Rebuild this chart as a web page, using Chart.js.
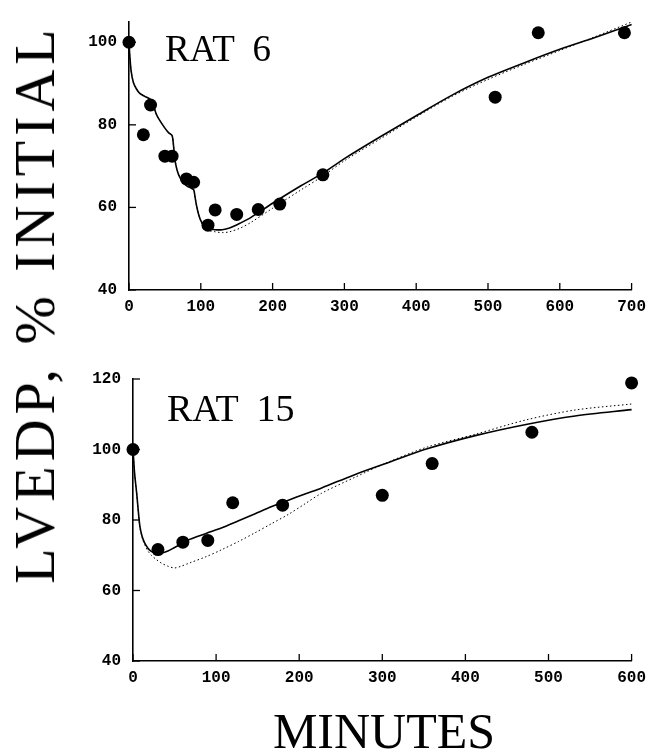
<!DOCTYPE html>
<html>
<head>
<meta charset="utf-8">
<script src="https://cdn.jsdelivr.net/npm/chart.js@4.4.1/dist/chart.umd.min.js"></script>
<style>
  body { margin: 0; background: #fff; }
  #wrap { position: relative; width: 653px; height: 755px; overflow: hidden; background: #fff; }
  canvas { position: absolute; left: 0; }
  #topChart { top: 0; }
  #bottomChart { top: 340px; }
  .serif { position: absolute; font-family: 'Liberation Serif', 'Times New Roman', serif; color: #000; white-space: nowrap; line-height: 1; }
  #yTitle { left: 35px; top: 304px; font-size: 58px; letter-spacing: 5px; transform: translate(-50%, -50%) rotate(-90deg); }
  #xTitle { left: 384px; top: 731px; font-size: 50px; transform: translate(-50%, -50%); }
  #rat6 { left: 165px; top: 30px; font-size: 37px; word-spacing: 9px; }
  #rat15 { left: 167px; top: 389px; font-size: 38px; word-spacing: 9px; }
</style>
</head>
<body>
<div id="wrap">
  <canvas id="topChart" width="653" height="330"></canvas>
  <canvas id="bottomChart" width="653" height="360"></canvas>
  <div class="serif" id="yTitle">LVEDP, % INITIAL</div>
  <div class="serif" id="xTitle">MINUTES</div>
  <div class="serif" id="rat6">RAT 6</div>
  <div class="serif" id="rat15">RAT 15</div>
</div>
<script>
// RAT 6 - measured points
const rat6Minutes = [0, 20, 30, 50, 60, 80, 90, 110, 120, 150, 180, 210, 270, 510, 570, 690];
const rat6Lvedp = [100, 77.6, 84.8, 72.4, 72.4, 66.9, 66.1, 55.7, 59.4, 58.3, 59.5, 60.8, 67.9, 86.7, 102.3, 102.3];
// RAT 6 - model curves
const rat6FitMinutes = [0, 1, 3, 6, 10, 15, 22, 30, 33, 38, 43, 50, 55, 60, 62, 64, 67, 71, 76, 80, 85, 90, 92, 94, 97, 100, 104, 110, 120, 130, 140, 155, 170, 200, 240, 270, 300, 350, 400, 450, 500, 550, 600, 650, 700];
const rat6Solid = [100, 97, 93, 90.3, 88.8, 87.6, 86.9, 86.1, 85.2, 82.6, 81, 79.2, 78.1, 77.4, 75, 71.5, 69, 67.2, 66, 65.3, 64.8, 64.3, 62.5, 60.5, 58.3, 56.8, 55.7, 54.9, 54.6, 54.6, 55, 56.2, 57.6, 61, 65.3, 68.3, 71.8, 77.1, 82.2, 87.2, 91.5, 95, 98.3, 101.2, 104.3];
const rat6Dotted = [100, 97, 93, 90.3, 88.8, 87.6, 86.9, 86.1, 85.2, 82.6, 81, 79.2, 78.1, 77.4, 75, 71.5, 69, 67.2, 66, 65.3, 64.8, 64.3, 62.5, 60.5, 58.3, 56.8, 55.5, 54.5, 54.1, 53.9, 54.1, 55, 56.4, 59.8, 64.3, 67.6, 71.3, 76.6, 81.9, 86.9, 91, 94.6, 98, 101.4, 104.9];
const rat6XTicks = [0, 100, 200, 300, 400, 500, 600, 700];
const rat6YTicks = [40, 60, 80, 100];

// RAT 15 - measured points
const rat15Minutes = [0, 30, 60, 90, 120, 180, 300, 360, 480, 600];
const rat15Lvedp = [100, 71.6, 73.7, 74.2, 84.9, 84.2, 87, 96, 104.9, 118.9];
// RAT 15 - model curves
const rat15FitMinutes = [0, 2, 4.4, 6, 8.3, 11, 14, 18, 22, 28, 34, 42, 50, 58, 68, 88, 107, 127, 147, 167, 187, 207, 227, 266, 306, 354, 413, 473, 532, 600];
const rat15Solid = [100, 93, 87.7, 83.5, 78.2, 75.3, 73.5, 72, 71.1, 70.5, 70.6, 71.2, 72.2, 73.2, 74.5, 76.2, 77.8, 79.8, 81.8, 83.8, 85.6, 87.4, 89.1, 92.8, 96.2, 100.2, 104, 107.1, 109.5, 111.3];
const rat15Dotted = [100, 93, 87.7, 83.3, 78, 75, 73, 71.2, 70, 68.8, 67.8, 66.9, 66.4, 66.9, 67.8, 69.6, 71.6, 73.9, 76.4, 79, 81.6, 84.6, 87.6, 92, 96.3, 100.7, 104.4, 108.4, 111.2, 112.9];
const rat15XTicks = [0, 100, 200, 300, 400, 500, 600];
const rat15YTicks = [40, 60, 80, 100, 120];

const xy = (xs, ys) => xs.map((x, i) => ({ x: x, y: ys[i] }));

// short tick marks pointing into the plot, like the original
const innerTicks = {
  id: 'innerTicks',
  afterDraw(chart) {
    const { ctx, chartArea, scales } = chart;
    ctx.save();
    ctx.strokeStyle = '#000';
    ctx.lineWidth = 1.3;
    scales.x.ticks.forEach(t => {
      const px = scales.x.getPixelForValue(t.value);
      ctx.beginPath();
      ctx.moveTo(px, chartArea.bottom);
      ctx.lineTo(px, chartArea.bottom - 7);
      ctx.stroke();
    });
    scales.y.ticks.forEach(t => {
      const py = scales.y.getPixelForValue(t.value);
      ctx.beginPath();
      ctx.moveTo(chartArea.left, py);
      ctx.lineTo(chartArea.left + 7, py);
      ctx.stroke();
    });
    ctx.restore();
  }
};

const tickFont = { family: "'Liberation Mono', monospace", size: 16, weight: 'bold' };

function makeChart(id, pts, solid, dotted, opts) {
  return new Chart(document.getElementById(id), {
    type: 'scatter',
    data: {
      datasets: [
        { type: 'line', data: dotted, borderColor: '#000', borderWidth: 1, borderDash: [1.5, 2.5], pointRadius: 0, fill: false, tension: 0.3, clip: false },
        { type: 'line', data: solid, borderColor: '#000', borderWidth: 1.6, pointRadius: 0, fill: false, tension: 0.3, clip: false },
        { data: pts, backgroundColor: '#000', borderWidth: 0, pointRadius: 6.5, clip: false }
      ]
    },
    options: {
      responsive: false,
      animation: false,
      devicePixelRatio: 1,
      layout: { padding: opts.padding },
      plugins: { legend: { display: false }, tooltip: { enabled: false } },
      scales: {
        x: {
          type: 'linear', min: 0, max: opts.xMax,
          afterBuildTicks: s => { s.ticks = opts.xTicks.map(v => ({ value: v })); },
          afterFit: s => { s.height = opts.xHeight; },
          grid: { display: false, drawTicks: false },
          border: { display: true, color: '#000', width: 1.6 },
          ticks: { color: '#000', font: tickFont, padding: 7, maxRotation: 0 }
        },
        y: {
          type: 'linear', min: 40, max: opts.yMax,
          afterBuildTicks: s => { s.ticks = opts.yTicks.map(v => ({ value: v })); },
          afterFit: s => { s.width = opts.yWidth; },
          grid: { display: false, drawTicks: false },
          border: { display: true, color: '#000', width: 1.6 },
          ticks: { color: '#000', font: tickFont, padding: 12 }
        }
      }
    },
    plugins: [innerTicks]
  });
}

makeChart('topChart', xy(rat6Minutes, rat6Lvedp), xy(rat6FitMinutes, rat6Solid), xy(rat6FitMinutes, rat6Dotted),
  { xMax: 700, yMax: 105, xTicks: rat6XTicks, yTicks: rat6YTicks, padding: { top: 10.5, right: 21, left: 0, bottom: 0 }, xHeight: 40, yWidth: 129 });
makeChart('bottomChart', xy(rat15Minutes, rat15Lvedp), xy(rat15FitMinutes, rat15Solid), xy(rat15FitMinutes, rat15Dotted),
  { xMax: 600, yMax: 120, xTicks: rat15XTicks, yTicks: rat15YTicks, padding: { top: 39, right: 16, left: 0, bottom: 0 }, xHeight: 39, yWidth: 133 });
</script>
</body>
</html>
